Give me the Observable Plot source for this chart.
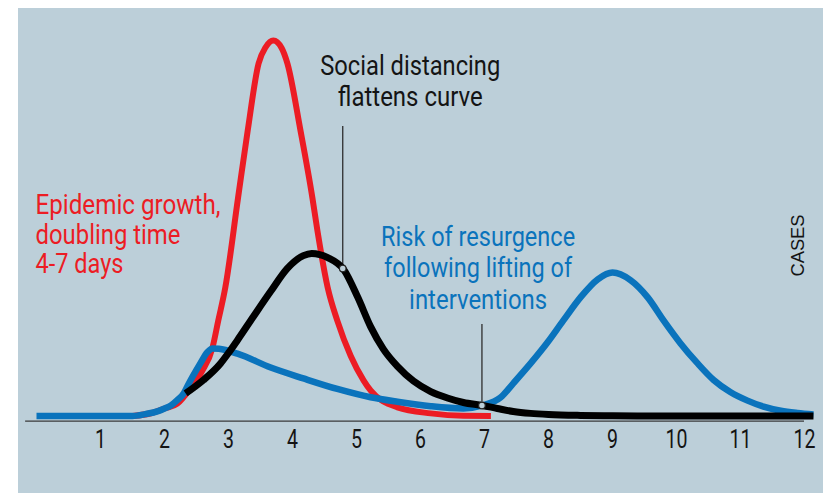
<!DOCTYPE html>
<html>
<head>
<meta charset="utf-8">
<script src="https://cdn.jsdelivr.net/npm/d3@7"></script>
<script src="https://cdn.jsdelivr.net/npm/@observablehq/plot@0.6"></script>
<style>
  html, body { margin: 0; padding: 0; background: #fff; }
</style>
</head>
<body>
<div id="chart"></div>
<script>
// ---- data (x = time units on the axis, y = relative cases) ----
const tickValues = [1, 2, 3, 4, 5, 6, 7, 8, 9, 10, 11, 12];

const redX = [1.5, 1.8, 2.0, 2.2, 2.41, 2.59, 2.75, 2.84, 2.95, 3.15, 3.30, 3.47, 3.58, 3.70, 3.83, 3.92, 4.125, 4.31, 4.39, 4.55, 4.70, 4.91, 5.11, 5.22, 5.64, 6.16, 6.67, 7.1];
const redY = [0, 0.8, 2.0, 3.3, 7.5, 12.0, 18.2, 25.4, 34.2, 58.2, 76.0, 93.9, 98.2, 100, 98.0, 93.9, 76.0, 58.2, 49.3, 34.2, 25.4, 16.0, 9.5, 6.8, 2.3, 0.7, 0.05, 0];

const blueX = [0, 1.5, 1.7, 1.9, 2.0, 2.1, 2.2, 2.3, 2.36, 2.56, 2.67, 2.75, 2.85, 3.14, 3.66, 4.17, 4.7, 5.22, 5.64, 6.16, 6.67, 6.97, 7.25, 7.45, 7.72, 7.98, 8.23, 8.5, 8.77, 9.0, 9.28, 9.55, 9.8, 10.06, 10.33, 10.58, 10.84, 11.11, 11.36, 11.63, 11.89, 12.14];
const blueY = [0, 0, 0.5, 1.3, 2.0, 2.8, 4.2, 6.0, 8.0, 14.0, 17.0, 18.0, 17.9, 16.6, 12.9, 10.0, 7.2, 5.0, 3.8, 2.6, 2.0, 2.8, 4.9, 8.7, 14.0, 19.5, 25.4, 31.6, 36.4, 38.2, 36.2, 31.6, 25.4, 19.4, 14.0, 9.6, 6.4, 4.1, 2.5, 1.4, 0.8, 0.4];

const blackX = [2.33, 2.61, 2.875, 3.0, 3.14, 3.39, 3.66, 3.92, 4.17, 4.30, 4.55, 4.80, 5.02, 5.22, 5.42, 5.64, 5.89, 6.16, 6.42, 6.67, 6.97, 7.20, 7.45, 7.72, 8.0, 8.5, 9.0, 10.0, 11.0, 12.14];
const blackY = [6.0, 9.6, 14.0, 16.8, 20.2, 26.5, 33.2, 39.3, 42.7, 43.3, 42.2, 39.0, 31.6, 23.8, 17.8, 13.2, 9.3, 6.5, 4.8, 3.6, 2.8, 2.0, 1.2, 0.7, 0.4, 0.15, 0.05, 0, 0, 0];

const redLabel = ["Epidemic growth,", "doubling time", "4-7 days"];
const blackLabel = ["Social distancing", "flattens curve"];
const blueLabel = ["Risk of resurgence", "following lifting of", "interventions"];
const yLabel = "CASES";

// annotation anchors (data space)
const leaderX = [4.785, 6.96];
const leaderTop = [77.1, 24.4];
const leaderPoint = [39.3, 2.8];

// ---- styles / layout ----
const BG = "#bccfd9";
const RED = "#ec1c24";
const BLUE = "#0a73bc";
const INK = "#141414";
const FONT = "Roboto, 'Liberation Sans', sans-serif";

const toPts = (xs, ys) => xs.map((x, i) => ({x, y: ys[i]}));
const red = toPts(redX, redY);
const blue = toPts(blueX, blueY);
const black = toPts(blackX, blackY);

const redText = redLabel.map((t, i) => ({t, x: -0.016, y: [53.9, 45.9, 38.1][i]}));
const blackText = blackLabel.map((t, i) => ({t, x: 5.84, y: [90.7, 82.6][i]}));
const blueText = blueLabel.map((t, i) => ({t, x: 6.9, y: [45.4, 37.1, 28.6][i]}));
const leaders = leaderX.map((x, i) => ({x, y1: leaderPoint[i] + 0.9, y2: leaderTop[i], yp: leaderPoint[i]}));

const textWidths = {
  "Epidemic growth,": 185, "doubling time": 145, "4-7 days": 88,
  "Social distancing": 180, "flattens curve": 145,
  "Risk of resurgence": 194, "following lifting of": 188, "interventions": 138,
  "CASES": 62
};

const plot = Plot.plot({
  width: 823,
  height: 493,
  marginTop: 8, marginLeft: 18, marginRight: 0, marginBottom: 72,
  style: {
    background: `linear-gradient(${BG}, ${BG}) 18px 8px / 805px 485px no-repeat, #ffffff`,
    fontFamily: FONT,
    overflow: "visible"
  },
  x: {domain: [0, 12], range: [36, 804]},
  y: {domain: [0, 100], range: [415.5, 40], axis: null},
  marks: [
    Plot.ruleY([-1.37], {x1: -0.17, x2: 12, stroke: "#3a3a3a", strokeWidth: 1.3}),
    Plot.axisX({ticks: tickValues, tickSize: 0, tickPadding: 8, label: null, fontSize: 26, fontFamily: FONT, fill: INK, anchor: "bottom"}),
    Plot.ruleX(leaders, {x: "x", y1: "y1", y2: "y2", stroke: "#2e2e2e", strokeWidth: 1.3}),
    Plot.line(red, {x: "x", y: "y", stroke: RED, strokeWidth: 6, curve: "monotone-x", strokeLinecap: "butt"}),
    Plot.line(blue, {x: "x", y: "y", stroke: BLUE, strokeWidth: 6.5, curve: "monotone-x", strokeLinecap: "butt"}),
    Plot.line(black, {x: "x", y: "y", stroke: "#000", strokeWidth: 7, curve: "monotone-x", strokeLinecap: "butt"}),
    Plot.dot(leaders, {x: "x", y: "yp", r: 3.3, fill: BG, stroke: "#222", strokeWidth: 1.2}),
    Plot.text(redText, {x: "x", y: "y", text: "t", textAnchor: "start", lineAnchor: "bottom", fill: RED, fontSize: 28, fontFamily: FONT}),
    Plot.text(blackText, {x: "x", y: "y", text: "t", textAnchor: "middle", lineAnchor: "bottom", fill: INK, fontSize: 28, fontFamily: FONT}),
    Plot.text(blueText, {x: "x", y: "y", text: "t", textAnchor: "middle", lineAnchor: "bottom", fill: BLUE, fontSize: 28, fontFamily: FONT}),
    Plot.text([yLabel], {x: 11.9, y: 45.4, text: d => d, rotate: -90, textAnchor: "middle", lineAnchor: "middle", fill: INK, fontSize: 18, fontFamily: "'Liberation Sans', Arial, sans-serif"})
  ]
});

// condense text to the reference's widths (condensed type)
plot.querySelectorAll("text").forEach(t => {
  const s = t.textContent;
  if (textWidths[s] != null) {
    t.setAttribute("textLength", textWidths[s]);
    t.setAttribute("lengthAdjust", "spacingAndGlyphs");
  }
});
plot.querySelectorAll('g[aria-label="x-axis tick label"] text').forEach(t => {
  t.setAttribute("textLength", 11 * t.textContent.length);
  t.setAttribute("lengthAdjust", "spacingAndGlyphs");
});

document.getElementById("chart").appendChild(plot);
</script>
</body>
</html>
